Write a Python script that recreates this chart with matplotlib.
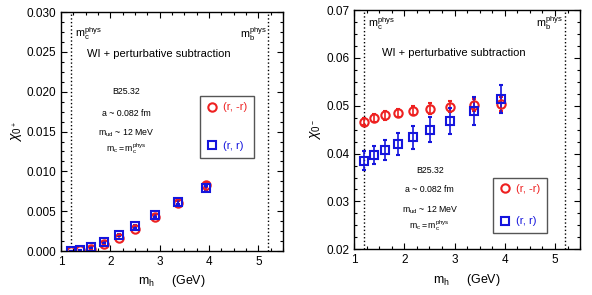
import numpy as np
import matplotlib
matplotlib.use("Agg")
import matplotlib.pyplot as plt
from matplotlib.ticker import AutoMinorLocator, FormatStrFormatter
from matplotlib.lines import Line2D

plt.rcParams['font.family'] = ['Liberation Sans', 'DejaVu Sans']
plt.rcParams['mathtext.fontset'] = 'custom'
plt.rcParams['mathtext.rm'] = 'Liberation Sans'
plt.rcParams['mathtext.it'] = 'Liberation Sans:italic'

# heavy quark masses (GeV)
m_h = [1.20, 1.39, 1.61, 1.87, 2.17, 2.51, 2.91, 3.38, 3.93]

# chi_0+
chip_rmr = [0.0000, 0.0001, 0.0003, 0.0009, 0.0017, 0.0028, 0.0043, 0.0060, 0.0083]
chip_rmr_err = [0.00003, 0.00005, 0.00008, 0.0001, 0.00015, 0.0002, 0.0002, 0.00025, 0.0003]
chip_rr = [0.0000, 0.0001, 0.0005, 0.0011, 0.0020, 0.0031, 0.0045, 0.0061, 0.0079]
chip_rr_err = [0.00003, 0.00005, 0.00008, 0.0001, 0.00015, 0.0002, 0.0002, 0.00025, 0.0003]

# chi_0-
chim_rmr = [0.0467, 0.0474, 0.0480, 0.0485, 0.0490, 0.0494, 0.0498, 0.0501, 0.0504]
chim_rmr_err = [0.0008, 0.0008, 0.0009, 0.0009, 0.0010, 0.0011, 0.0012, 0.0013, 0.0015]
chim_rr = [0.0385, 0.0397, 0.0407, 0.0420, 0.0434, 0.0450, 0.0468, 0.0489, 0.0514]
chim_rr_err = [0.0020, 0.0019, 0.0021, 0.0023, 0.0024, 0.0026, 0.0028, 0.0030, 0.0030]

mc_phys = 1.2
mb_phys = 5.2

red = '#ee2020'
blue = '#1515dd'

fig = plt.figure(figsize=(5.92, 2.95), dpi=100)
ax1 = fig.add_axes([0.103, 0.149, 0.375, 0.810])
ax2 = fig.add_axes([0.598, 0.155, 0.382, 0.811])


def style(ax, ylim, fmt):
    ax.set_xlim(1, 5.5)
    ax.set_ylim(*ylim)
    ax.set_xticks([1, 2, 3, 4, 5])
    ax.xaxis.set_minor_locator(AutoMinorLocator(4))
    ax.yaxis.set_minor_locator(AutoMinorLocator(4))
    ax.yaxis.set_major_formatter(FormatStrFormatter(fmt))
    ax.tick_params(which='both', direction='in', top=True, right=True, labelsize=8.5, width=0.8)
    ax.tick_params(which='major', length=4)
    ax.tick_params(which='minor', length=2)
    for s in ax.spines.values():
        s.set_linewidth(1.0)
    ax.axvline(mc_phys, color='k', ls=':', lw=1)
    ax.axvline(mb_phys, color='k', ls=':', lw=1)
    ax.set_xlabel(r'$\mathregular{m_h}$     (GeV)', fontsize=9, labelpad=4)


def info(ax, x, ys):
    labels = ['B25.32', 'a ~ 0.082 fm', r'$\mathregular{m_{ud}}$ ~ 12 MeV',
              r'$\mathregular{m_c = m_c^{phys}}$']
    for lab, y in zip(labels, ys):
        ax.text(x, y, lab, ha='center', va='center', fontsize=6.3, transform=ax.transAxes)


def legend(ax, anchor, spacing):
    handles = [Line2D([], [], ls='none', marker='o', mfc='none', mec=red, mew=1.5, ms=6),
               Line2D([], [], ls='none', marker='s', mfc='none', mec=blue, mew=1.5, ms=5.5)]
    lg = ax.legend(handles, ['(r, -r)', '(r, r)'], loc='upper left', bbox_to_anchor=anchor,
                   fontsize=8, labelcolor=[red, blue], frameon=True, fancybox=False,
                   edgecolor='#555555', framealpha=1, handlelength=1.0, handletextpad=0.5,
                   labelspacing=spacing, borderpad=0.6, borderaxespad=0)
    lg.get_frame().set_linewidth(1.0)


# left: chi_0+
style(ax1, (0, 0.03), '%.3f')
ax1.errorbar(m_h, chip_rmr, yerr=chip_rmr_err, fmt='o', ms=6, mfc='none', mec=red,
             mew=1.5, ecolor=red, elinewidth=1.2, capsize=1.5)
ax1.errorbar(m_h, chip_rr, yerr=chip_rr_err, fmt='s', ms=5.5, mfc='none', mec=blue,
             mew=1.5, ecolor=blue, elinewidth=1.2, capsize=1.5)
ax1.set_ylabel(r'$\chi_{0^+}$', fontsize=10, labelpad=2)
ax1.text(1.28, 0.0273, r'$\mathregular{m_c^{phys}}$', fontsize=7.8, va='center')
ax1.text(4.62, 0.0273, r'$\mathregular{m_b^{phys}}$', fontsize=7.8, va='center')
ax1.text(0.44, 0.826, 'WI + perturbative subtraction', ha='center', va='center',
         fontsize=8, transform=ax1.transAxes)
info(ax1, 0.295, [0.666, 0.577, 0.494, 0.431])
legend(ax1, (0.625, 0.65), 2.6)

# right: chi_0-
style(ax2, (0.02, 0.07), '%.2f')
ax2.errorbar(m_h, chim_rmr, yerr=chim_rmr_err, fmt='o', ms=6, mfc='none', mec=red,
             mew=1.5, ecolor=red, elinewidth=1.2, capsize=1.5)
ax2.errorbar(m_h, chim_rr, yerr=chim_rr_err, fmt='s', ms=5.5, mfc='none', mec=blue,
             mew=1.5, ecolor=blue, elinewidth=1.2, capsize=1.5)
ax2.set_ylabel(r'$\chi_{0^-}$', fontsize=10, labelpad=2)
ax2.text(1.28, 0.0672, r'$\mathregular{m_c^{phys}}$', fontsize=7.8, va='center')
ax2.text(4.62, 0.0672, r'$\mathregular{m_b^{phys}}$', fontsize=7.8, va='center')
ax2.text(0.44, 0.82, 'WI + perturbative subtraction', ha='center', va='center',
         fontsize=8, transform=ax2.transAxes)
info(ax2, 0.335, [0.33, 0.25, 0.165, 0.10])
legend(ax2, (0.615, 0.30), 2.0)

fig.savefig('out.png', dpi=100)
